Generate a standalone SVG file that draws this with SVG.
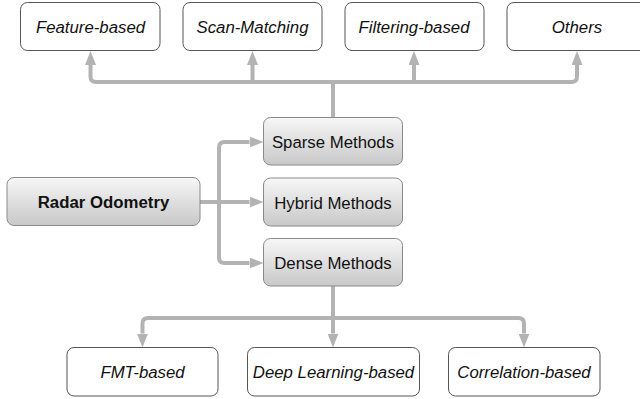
<svg xmlns="http://www.w3.org/2000/svg" width="640" height="399" viewBox="0 0 640 399">
<defs>
<linearGradient id="g" x1="0" y1="0" x2="0" y2="1">
<stop offset="0" stop-color="#f7f7f7"/>
<stop offset="1" stop-color="#c8c8c8"/>
</linearGradient>
<marker id="ah" markerUnits="userSpaceOnUse" markerWidth="14" markerHeight="11" refX="0" refY="5.5" orient="auto" viewBox="0 0 14 11">
<path d="M0,0 L14,5.5 L0,11 z" fill="#b3b3b3"/>
</marker>
<style>
.w{fill:#ffffff;stroke:#555555;stroke-width:1}
.s{fill:url(#g);stroke:#8a8a8a;stroke-width:1}
text{font-family:"Liberation Sans",Arial,sans-serif;font-size:16.8px;fill:#111111;text-anchor:middle}
.i{font-style:italic}
.b{font-weight:bold}
.c{fill:none;stroke:#b3b3b3;stroke-width:4}
.a{marker-end:url(#ah)}
</style>
</defs>
<g id="connectors">
<path class="c" d="M333,117 V82"/>
<path class="c a" d="M333,82 H96 Q90.5,82 90.5,76.5 V65"/>
<path class="c a" d="M252.5,82 V65"/>
<path class="c a" d="M414,82 V65"/>
<path class="c a" d="M333,82 H571.5 Q577,82 577,76.5 V65"/>
<path class="c" d="M200,202 H219"/>
<path class="c a" d="M219,202 V147.5 Q219,142 224.5,142 H249.5"/>
<path class="c a" d="M219,202 H249.5"/>
<path class="c a" d="M219,202 V257.5 Q219,263 224.5,263 H249.5"/>
<path class="c" d="M333,286 V318"/>
<path class="c a" d="M333,318 H148 Q142.5,318 142.5,323.5 V333.5"/>
<path class="c a" d="M333,318 V333.5"/>
<path class="c a" d="M333,318 H518.5 Q524,318 524,323.5 V333.5"/>
</g>
<g id="feature-based"><rect class="w" x="20.5" y="2.5" width="139.5" height="48" rx="7"/><text class="i" x="90.5" y="32.5">Feature-based</text></g>
<g id="scan-matching"><rect class="w" x="183" y="2.5" width="139" height="48" rx="7"/><text class="i" x="252.5" y="32.5">Scan-Matching</text></g>
<g id="filtering-based"><rect class="w" x="345" y="2.5" width="139" height="48" rx="7"/><text class="i" x="414" y="32.5">Filtering-based</text></g>
<g id="others"><rect class="w" x="507" y="2.5" width="140" height="48" rx="7"/><text class="i" x="577" y="32.5">Others</text></g>
<g id="radar-odometry"><rect class="s" x="7" y="177.5" width="193" height="48" rx="7"/><text class="b" x="103.5" y="207.5">Radar Odometry</text></g>
<g id="sparse-methods"><rect class="s" x="263.5" y="117.5" width="139" height="47.5" rx="7"/><text x="333" y="147.5">Sparse Methods</text></g>
<g id="hybrid-methods"><rect class="s" x="263.5" y="178" width="139" height="48" rx="7"/><text x="333" y="208.5">Hybrid Methods</text></g>
<g id="dense-methods"><rect class="s" x="263.5" y="238.5" width="139" height="47.5" rx="7"/><text x="333" y="268.5">Dense Methods</text></g>
<g id="fmt-based"><rect class="w" x="67" y="347.5" width="151" height="48.5" rx="7"/><text class="i" x="142.5" y="377.5">FMT-based</text></g>
<g id="deep-learning-based"><rect class="w" x="247.5" y="347.5" width="172" height="48.5" rx="7"/><text class="i" x="333.5" y="377.5">Deep Learning-based</text></g>
<g id="correlation-based"><rect class="w" x="448.5" y="347.5" width="151.5" height="48.5" rx="7"/><text class="i" x="524" y="377.5">Correlation-based</text></g>
</svg>
